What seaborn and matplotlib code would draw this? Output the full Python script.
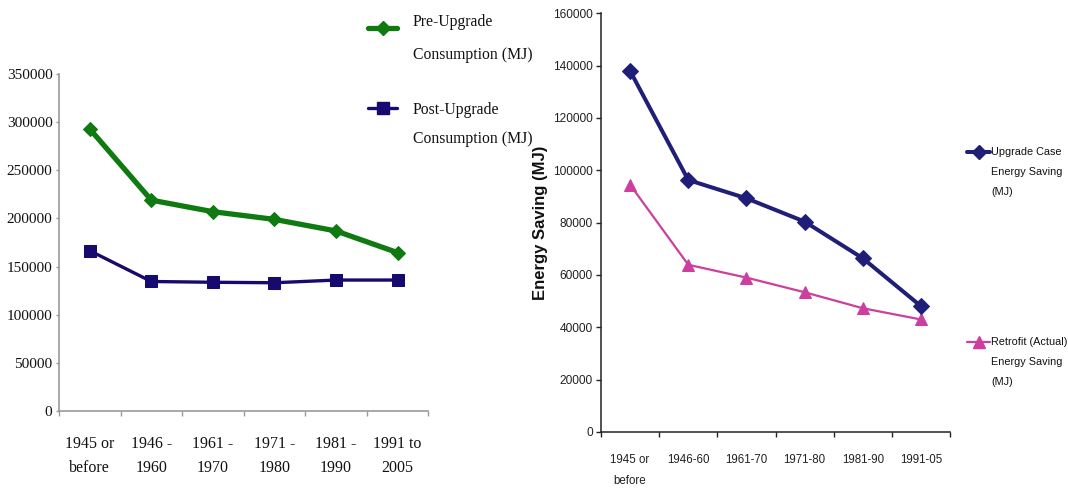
import matplotlib
matplotlib.use("Agg")
import numpy as np
import pandas as pd
import seaborn as sns
import matplotlib.pyplot as plt
from matplotlib.lines import Line2D

# ---------------- data ----------------
left_categories = ["1945 or\nbefore", "1946 -\n1960", "1961 -\n1970",
                   "1971 -\n1980", "1981 -\n1990", "1991 to\n2005"]
pre_upgrade = [292900, 219000, 207000, 199000, 187000, 164500]
post_upgrade = [166500, 134500, 133700, 133200, 136000, 136000]
left_yticks = [0, 50000, 100000, 150000, 200000, 250000, 300000, 350000]
left_labels = ["Pre-Upgrade", "Consumption (MJ)", "Post-Upgrade", "Consumption (MJ)"]

right_categories = ["1945 or\nbefore", "1946-60", "1961-70", "1971-80", "1981-90", "1991-05"]
upgrade_saving = [138000, 96300, 89300, 80400, 66400, 48100]
retrofit_saving = [94500, 63900, 59000, 53400, 47300, 43000]
right_yticks = [0, 20000, 40000, 60000, 80000, 100000, 120000, 140000, 160000]
right_labels = [["Upgrade Case", "Energy Saving", "(MJ)"],
                ["Retrofit (Actual)", "Energy Saving", "(MJ)"]]
right_ylabel = "Energy Saving (MJ)"

# ---------------- style ----------------
sns.set_style("white")
SERIF = ["Liberation Serif", "DejaVu Serif"]
SANS = ["Liberation Sans", "DejaVu Sans"]

GREEN = "#0f7a10"
NAVY_L = "#170a6e"
NAVY_R = "#1f1f78"
PINK = "#cc3f9e"

W, H = 1068, 488
fig = plt.figure(figsize=(W / 100, H / 100), dpi=100)
fig.patch.set_facecolor("white")


def fx(x):
    return x / W


def fy(y):
    return 1 - y / H


axL = fig.add_axes([fx(59), fy(411), (428.3 - 59) / W, (411 - 74) / H])
axR = fig.add_axes([fx(601), fy(432), (950 - 601) / W, (432 - 13.3) / H])

# ---------------- left chart ----------------
dfL = pd.DataFrame({"pos": np.arange(len(left_categories)),
                    "pre": pre_upgrade, "post": post_upgrade})
sns.lineplot(data=dfL, x="pos", y="pre", ax=axL, color=GREEN, lw=3.8,
             marker="D", ms=7.5, mec=GREEN, mfc=GREEN, sort=False)
sns.lineplot(data=dfL, x="pos", y="post", ax=axL, color=NAVY_L, lw=2.4,
             marker="s", ms=8.5, mec=NAVY_L, mfc=NAVY_L, sort=False)

axL.set_xlim(-0.5, len(left_categories) - 0.5)
axL.set_ylim(0, 350000)
axL.set_xticks(np.arange(len(left_categories)), left_categories,
               family=SERIF, fontsize=11.5, linespacing=1.68)
axL.set_xticks(np.arange(-0.5, len(left_categories)), minor=True)
axL.set_yticks(left_yticks, [str(v) for v in left_yticks], family=SERIF, fontsize=11)
axL.tick_params(axis="x", which="major", length=0, pad=18, colors="#111111")
axL.tick_params(axis="x", which="minor", length=3.6, width=1, direction="out",
                color="#9a9a9a", bottom=True)
axL.tick_params(axis="y", length=2.2, width=1, direction="out", pad=2.5,
                color="#9a9a9a", labelcolor="#111111", left=True)
for s in ["top", "right"]:
    axL.spines[s].set_visible(False)
for s in ["left", "bottom"]:
    axL.spines[s].set_color("#9a9a9a")
    axL.spines[s].set_linewidth(1.2)
axL.set_xlabel("")
axL.set_ylabel("")

# left legend (handles aligned with the first line of each label)
for (yline, col, mk, ms, lw) in [(28, GREEN, "D", 7, 3.8), (108, NAVY_L, "s", 8.5, 2.4)]:
    fig.add_artist(Line2D([fx(368), fx(397)], [fy(yline), fy(yline)], color=col,
                          lw=lw, transform=fig.transFigure))
    fig.add_artist(Line2D([fx(382.5)], [fy(yline)], color=col, marker=mk, ms=ms,
                          mec=col, mfc=col, transform=fig.transFigure))
ty = [22, 55, 110, 139]
for t, y in zip(left_labels, ty):
    fig.text(fx(413), fy(y), t, family=SERIF, fontsize=11.3, va="center", ha="left",
             color="#111111")

# ---------------- right chart ----------------
dfR = pd.DataFrame({"pos": np.arange(len(right_categories)),
                    "upgrade": upgrade_saving, "retrofit": retrofit_saving})
sns.lineplot(data=dfR, x="pos", y="retrofit", ax=axR, color=PINK, lw=1.6,
             marker="^", ms=9, mec=PINK, mfc=PINK, sort=False)
sns.lineplot(data=dfR, x="pos", y="upgrade", ax=axR, color=NAVY_R, lw=2.9,
             marker="D", ms=8, mec=NAVY_R, mfc=NAVY_R, sort=False)

axR.set_xlim(-0.5, len(right_categories) - 0.5)
axR.set_ylim(0, 160000)
axR.set_xticks(np.arange(len(right_categories)), right_categories,
               family=SANS, fontsize=8.3, linespacing=2.0)
axR.set_xticks(np.arange(-0.5, len(right_categories)), minor=True)
axR.set_yticks(right_yticks, [str(v) for v in right_yticks], family=SANS, fontsize=8.6)
axR.tick_params(axis="x", which="major", length=0, pad=16, colors="#222222")
axR.tick_params(axis="x", which="minor", length=3.6, width=1, direction="out",
                color="#222222", bottom=True)
axR.tick_params(axis="y", length=3.5, width=1, direction="out", pad=2.5,
                color="#222222", labelcolor="#222222", left=True)
for s in ["top", "right"]:
    axR.spines[s].set_visible(False)
for s in ["left", "bottom"]:
    axR.spines[s].set_color("#222222")
    axR.spines[s].set_linewidth(1.1)
axR.set_xlabel("")
axR.set_ylabel(right_ylabel, family=SANS, fontweight="bold", fontsize=12, color="#111111")
axR.yaxis.set_label_coords(-0.152, 0.5)

# right legend
for (yline, col, mk, ms, lw) in [(152, NAVY_R, "D", 7, 2.9), (342, PINK, "^", 8, 1.6)]:
    fig.add_artist(Line2D([fx(967), fx(990)], [fy(yline), fy(yline)], color=col,
                          lw=lw, transform=fig.transFigure))
    fig.add_artist(Line2D([fx(978.5)], [fy(yline)], color=col, marker=mk, ms=ms,
                          mec=col, mfc=col, transform=fig.transFigure))
for lines, y0 in zip(right_labels, [152, 342]):
    for i, t in enumerate(lines):
        fig.text(fx(991), fy(y0 + 20 * i), t, family=SANS, fontsize=7.8,
                 va="center", ha="left", color="#111111")

fig.savefig("out.png", dpi=100, facecolor="white")
